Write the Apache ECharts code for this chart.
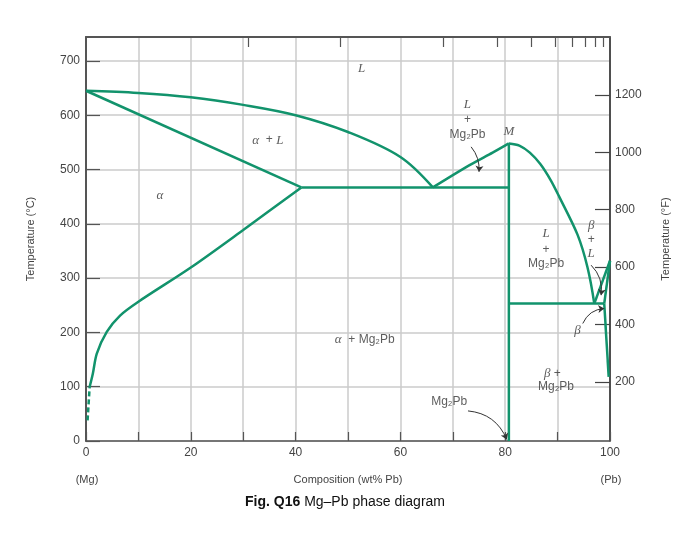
<!DOCTYPE html>
<html><head><meta charset="utf-8">
<script src="https://cdn.jsdelivr.net/npm/echarts@6/dist/echarts.min.js"></script>
<style>html,body{margin:0;padding:0;background:#fff}#c{width:700px;height:533px}</style>
</head><body><div id="c"></div>
<script>
// ---- tick values ----
const xTickLabels = [0, 20, 40, 60, 80, 100];
const yTickLabelsC = [0, 100, 200, 300, 400, 500, 600, 700];
const yTickLabelsF = [200, 400, 600, 800, 1000, 1200];
const topTicksWt = [31.0, 48.6, 68.1, 78.5, 85.0, 89.5, 92.8, 95.2, 97.1, 98.7]; // at% Pb ticks (5,10,20..90) in wt%

// ---- phase boundaries [wt% Pb, °C] ----
const liquidusMg = [[0,645],[10,641],[20,633],[30,619],[40,600],[50,569],[60,523],[66.2,467]];
const solidusMg = [[0,645],[41.1,467]];
const solvusMg = [[0.7,100],[1.3,124],[2.06,161],[3.96,201],[6.5,231],[10,256.5],[20,319.5],[30,388.6],[41.1,467]];
const solvusMgDashed = [[0.3,38],[0.7,100]];
const eutecticMg = [[41.1,467],[80.7,467]];
const liquidusLeftMg2Pb = [[66.2,467],[73.2,508],[77.6,531],[80.7,548]];
const liquidusRightMg2Pb = [[80.7,548],[82.7,544],[84.7,531],[86.7,510],[88.7,480],[90.3,450],[93.8,380],[95.7,320],[97.0,253]];
const mg2pbLine = [[80.7,0],[80.7,548]];
const eutecticPb = [[80.7,253],[98.9,253]];
const liquidusPb = [[97.0,253],[100,332]];
const solidusPb = [[98.9,253],[100,332]];
const solvusPb = [[98.9,253],[99.75,118]];

// ---- annotations ----
const annoText = ['{i|L}','{i|L}','+','Mg₂Pb','{i|M}','{i|α}  + {i|L}','{i|α}','{i|L}','+','Mg₂Pb','{i|β}','+','{i|L}','{i|β}','{i|β} +','Mg₂Pb','{i|α}  + Mg₂Pb','Mg₂Pb'];
const annoX = [52.6, 72.8, 72.8, 72.8, 80.7, 34.7, 14.1, 87.8, 87.8, 87.8, 96.4, 96.4, 96.4, 93.8, 89.0, 89.7, 53.2, 69.3];
const annoY = [686, 620, 592, 565, 569, 554, 452, 382, 353, 327, 397, 371, 345, 204, 124, 100, 186, 72];

const arrowFrom = [[73.5,541.7],[72.9,55.4],[96.4,323.8],[94.8,216.4]];
const arrowTo = [[75.0,495.7],[80.3,2.8],[98.3,268.6],[98.9,244]];
const arrowCurve = [0.2, 0.3, 0.25, 0.3];

const GREEN = '#12936c';
const TXT = '#444';
const SANS = 'Liberation Sans, Arial, DejaVu Sans, sans-serif';
const plain = v => String(v);

function boundary(data, opts) {
  return Object.assign({
    type: 'line', data: data, showSymbol: false, symbol: 'none', silent: true,
    lineStyle: { color: GREEN, width: 2.5 }, z: 5
  }, opts || {});
}

const annoData = annoText.map((t, i) => ({ value: [annoX[i], annoY[i]], label: { formatter: t } }));
const arrowData = arrowFrom.map((f, i) => ({ coords: [f, arrowTo[i]], lineStyle: { curveness: arrowCurve[i] } }));

const chart = echarts.init(document.getElementById('c'), null, { renderer: 'canvas' });
chart.setOption({
  animation: false,
  backgroundColor: '#fff',
  grid: { left: 86, right: 90, top: 37, bottom: 92 },
  xAxis: [
    {
      type: 'value', min: 0, max: 100, interval: 10, position: 'bottom',
      name: 'Composition (wt% Pb)', nameLocation: 'middle', nameGap: 33,
      nameTextStyle: { fontSize: 11, color: TXT, fontFamily: SANS },
      axisLine: { onZero: false, lineStyle: { color: '#555', width: 1.5 } },
      axisTick: { inside: true, length: 9, lineStyle: { color: '#555', width: 1.2 } },
      axisLabel: { customValues: xTickLabels, formatter: plain, fontSize: 12, color: TXT, fontFamily: SANS, margin: 6 },
      splitLine: { show: true, lineStyle: { color: '#cbcbcb', width: 1.5 } }
    },
    {
      type: 'value', min: 0, max: 100, position: 'top',
      axisLine: { show: true, onZero: false, lineStyle: { color: '#555', width: 2 } },
      axisTick: { show: true, inside: true, length: 10, customValues: topTicksWt, lineStyle: { color: '#555', width: 1.2 } },
      axisLabel: { show: false },
      splitLine: { show: false }
    }
  ],
  yAxis: [
    {
      type: 'value', min: 0, max: 744, interval: 100, position: 'left',
      name: 'Temperature (°C)', nameLocation: 'middle', nameGap: 50, nameRotate: 90,
      nameTextStyle: { fontSize: 11, color: TXT, fontFamily: SANS },
      axisLine: { show: true, onZero: false, lineStyle: { color: '#555', width: 2 } },
      axisTick: { show: true, inside: true, length: 14, customValues: yTickLabelsC, lineStyle: { color: '#555', width: 1.2 } },
      axisLabel: { customValues: yTickLabelsC, formatter: plain, fontSize: 12, color: TXT, fontFamily: SANS, margin: 6 },
      splitLine: { show: true, lineStyle: { color: '#cbcbcb', width: 1.5 } }
    },
    {
      type: 'value', min: -6, max: 1402, position: 'right',
      name: 'Temperature (°F)', nameLocation: 'middle', nameGap: 50, nameRotate: 90,
      nameTextStyle: { fontSize: 11, color: TXT, fontFamily: SANS },
      axisLine: { show: true, onZero: false, lineStyle: { color: '#222', width: 1.5 } },
      axisTick: { show: true, inside: true, length: 15, customValues: yTickLabelsF, lineStyle: { color: '#444', width: 1.2 } },
      axisLabel: { customValues: yTickLabelsF, formatter: plain, fontSize: 12, color: TXT, fontFamily: SANS, margin: 5 },
      splitLine: { show: false }
    }
  ],
  series: [
    boundary(liquidusMg, { smooth: 0.35 }),
    boundary(solidusMg),
    boundary(solvusMg, { smooth: 0.3 }),
    boundary(solvusMgDashed, { lineStyle: { color: GREEN, width: 2.5, type: [5, 3] } }),
    boundary(eutecticMg),
    boundary(liquidusLeftMg2Pb, { smooth: 0.3 }),
    boundary(liquidusRightMg2Pb, { smooth: 0.3 }),
    boundary(mg2pbLine),
    boundary(eutecticPb),
    boundary(liquidusPb),
    boundary(solidusPb),
    boundary(solvusPb),
    {
      type: 'lines', coordinateSystem: 'cartesian2d', silent: true, z: 6,
      symbol: ['none', 'arrow'], symbolSize: 6,
      lineStyle: { color: '#333', width: 1, opacity: 1 },
      data: arrowData
    },
    {
      type: 'scatter', silent: true, z: 7, symbolSize: 1,
      itemStyle: { color: 'rgba(0,0,0,0)' },
      label: {
        show: true, position: 'inside', color: '#333', fontSize: 12, fontFamily: SANS,
        rich: {
          i: { fontFamily: 'Liberation Serif, DejaVu Serif, serif', fontStyle: 'italic', fontSize: 13, color: '#333' }
        }
      },
      data: annoData
    }
  ],
  graphic: [
    { type: 'text', x: 87, y: 480, style: { text: '(Mg)', align: 'center', verticalAlign: 'middle', textAlign: 'center', textVerticalAlign: 'middle', fontSize: 11, fontFamily: SANS, fill: TXT } },
    { type: 'text', x: 611, y: 480, style: { text: '(Pb)', align: 'center', verticalAlign: 'middle', textAlign: 'center', textVerticalAlign: 'middle', fontSize: 11, fontFamily: SANS, fill: TXT } },
    { type: 'text', x: 345, y: 502, style: {
        text: '{b|Fig. Q16} Mg–Pb phase diagram', align: 'center', verticalAlign: 'middle', textAlign: 'center', textVerticalAlign: 'middle',
        fontSize: 14, fontFamily: SANS, fill: '#111',
        rich: { b: { fontWeight: 'bold', fontSize: 14, fontFamily: SANS, fill: '#111', color: '#111' } }
    } }
  ]
});
</script>
</body></html>
